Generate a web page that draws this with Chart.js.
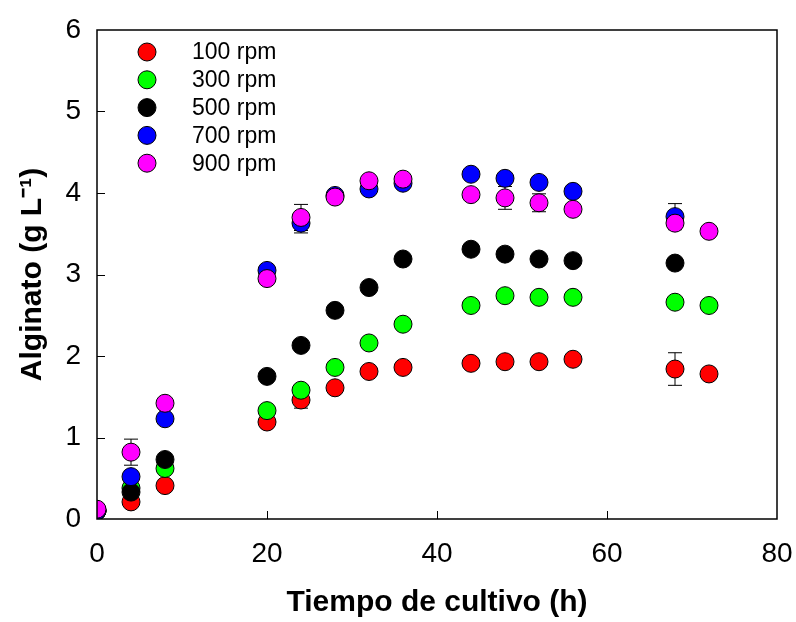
<!DOCTYPE html>
<html>
<head>
<meta charset="utf-8">
<script src="https://cdn.jsdelivr.net/npm/chart.js@4.4.1/dist/chart.umd.min.js"></script>
<style>
  html, body { margin: 0; padding: 0; background: #fff; }
  #wrap { width: 796px; height: 622px; }
</style>
</head>
<body>
<div id="wrap"><canvas id="chart" width="796" height="622"></canvas></div>
<script>
// sampling times (h)
var times = [0, 4, 8, 20, 24, 28, 32, 36, 44, 48, 52, 56, 68, 72];

// alginate (g/L) per agitation speed
var rpm100 = [0.10, 0.21, 0.41, 1.19, 1.46, 1.61, 1.81, 1.86, 1.91, 1.93, 1.93, 1.96, 1.84, 1.78];
var rpm300 = [0.10, 0.38, 0.62, 1.33, 1.58, 1.86, 2.16, 2.39, 2.62, 2.74, 2.72, 2.72, 2.66, 2.62];
var rpm500 = [0.10, 0.33, 0.73, 1.75, 2.13, 2.56, 2.84, 3.19, 3.31, 3.25, 3.19, 3.17, 3.14, null];
var rpm700 = [0.10, 0.52, 1.23, 3.05, 3.63, 3.97, 4.05, 4.12, 4.23, 4.18, 4.13, 4.02, 3.71, null];
var rpm900 = [0.12, 0.82, 1.42, 2.95, 3.70, 3.95, 4.15, 4.17, 3.98, 3.94, 3.88, 3.80, 3.63, 3.53];

// standard deviations (0 = no visible bar)
var err100 = [0, 0, 0, 0, 0.10, 0, 0, 0, 0, 0, 0, 0, 0.20, 0];
var err300 = [0, 0, 0, 0, 0, 0, 0, 0, 0, 0, 0, 0, 0, 0];
var err500 = [0, 0, 0, 0, 0, 0, 0, 0, 0, 0, 0, 0, 0, 0];
var err700 = [0, 0, 0, 0, 0.12, 0, 0, 0, 0, 0, 0, 0, 0.16, 0];
var err900 = [0, 0.16, 0, 0, 0.16, 0, 0, 0, 0, 0.14, 0.11, 0, 0, 0];

var labels = ['100 rpm', '300 rpm', '500 rpm', '700 rpm', '900 rpm'];
var colors = ['#ff0000', '#00ff00', '#000000', '#0000ff', '#ff00ff'];
var xTicks = [0, 20, 40, 60, 80];
var yTicks = [0, 1, 2, 3, 4, 5, 6];

var seriesVals = [rpm100, rpm300, rpm500, rpm700, rpm900];
var seriesErr = [err100, err300, err500, err700, err900];

function toPoints(vals) {
    var pts = [];
    for (var i = 0; i < times.length; i++) {
        if (vals[i] !== null) pts.push({ x: times[i], y: vals[i] });
    }
    return pts;
}

var datasets = [];
for (var s = 0; s < labels.length; s++) {
    datasets.push({
        label: labels[s],
        data: toPoints(seriesVals[s]),
        backgroundColor: colors[s],
        borderColor: '#000',
        borderWidth: 1,
        pointRadius: 9,
        showLine: false,
        order: labels.length - s // last series on top
    });
}

var FONT = '"Liberation Sans", Arial, sans-serif';

// error bars, frame, inward ticks and legend
var decorations = {
    id: 'decorations',
    beforeDatasetsDraw: function(chart) {
        var ctx = chart.ctx;
        var xs = chart.scales.x, ys = chart.scales.y;
        ctx.save();
        ctx.strokeStyle = '#000';
        ctx.lineWidth = 1;
        for (var s = 0; s < seriesVals.length; s++) {
            for (var i = 0; i < times.length; i++) {
                var e = seriesErr[s][i];
                if (!e || seriesVals[s][i] === null) continue;
                var px = xs.getPixelForValue(times[i]);
                var top = ys.getPixelForValue(seriesVals[s][i] + e);
                var bot = ys.getPixelForValue(seriesVals[s][i] - e);
                ctx.beginPath();
                ctx.moveTo(px, top); ctx.lineTo(px, bot);
                ctx.moveTo(px - 7, top); ctx.lineTo(px + 7, top);
                ctx.moveTo(px - 7, bot); ctx.lineTo(px + 7, bot);
                ctx.stroke();
            }
        }
        ctx.restore();
    },
    afterDraw: function(chart) {
        var ctx = chart.ctx;
        var a = chart.chartArea;
        var xs = chart.scales.x, ys = chart.scales.y;
        ctx.save();
        ctx.strokeStyle = '#000';
        ctx.lineWidth = 1.5;
        ctx.strokeRect(a.left, a.top, a.right - a.left, a.bottom - a.top);
        ctx.lineWidth = 1;
        ctx.beginPath();
        xTicks.forEach(function(v) {
            if (v === 0 || v === 80) return;
            var px = Math.round(xs.getPixelForValue(v)) + 0.5;
            ctx.moveTo(px, a.bottom); ctx.lineTo(px, a.bottom - 8);
        });
        yTicks.forEach(function(v) {
            if (v === 0 || v === 6) return;
            var py = Math.round(ys.getPixelForValue(v)) + 0.5;
            ctx.moveTo(a.left, py); ctx.lineTo(a.left + 8, py);
        });
        ctx.stroke();

        // legend inside plot
        ctx.font = '23px ' + FONT;
        ctx.textBaseline = 'middle';
        for (var s = 0; s < labels.length; s++) {
            var ly = 52 + s * 27.8;
            ctx.beginPath();
            ctx.arc(147, ly, 9, 0, Math.PI * 2);
            ctx.fillStyle = colors[s];
            ctx.fill();
            ctx.strokeStyle = '#000';
            ctx.stroke();
            ctx.fillStyle = '#000';
            ctx.fillText(labels[s], 192, ly + 1);
        }
        ctx.restore();
    }
};

new Chart(document.getElementById('chart').getContext('2d'), {
    type: 'scatter',
    data: { datasets: datasets },
    options: {
        responsive: false,
        animation: false,
        layout: { padding: { left: 0, top: 30, right: 19, bottom: 0 } },
        plugins: {
            legend: { display: false },
            tooltip: { enabled: false }
        },
        scales: {
            x: {
                type: 'linear',
                min: 0,
                max: 80,
                afterBuildTicks: function(scale) {
                    scale.ticks = xTicks.map(function(v) { return { value: v }; });
                },
                afterFit: function(scale) {
                    scale.height = 103;
                    scale.paddingLeft = 0;
                    scale.paddingRight = 0;
                },
                grid: { display: false, drawTicks: false },
                border: { display: false },
                ticks: { color: '#000', padding: 18, font: { family: FONT, size: 28 } },
                title: {
                    display: true,
                    text: 'Tiempo de cultivo (h)',
                    color: '#000',
                    padding: { top: 4, bottom: 1 },
                    font: { family: FONT, size: 30, weight: 'bold' }
                }
            },
            y: {
                type: 'linear',
                min: 0,
                max: 6,
                afterBuildTicks: function(scale) {
                    scale.ticks = yTicks.map(function(v) { return { value: v }; });
                },
                afterFit: function(scale) {
                    scale.width = 97;
                    scale.paddingTop = 0;
                    scale.paddingBottom = 0;
                },
                grid: { display: false, drawTicks: false },
                border: { display: false },
                ticks: { color: '#000', padding: 16, font: { family: FONT, size: 28 } },
                title: {
                    display: true,
                    text: 'Alginato (g L\u207B\u00B9)',
                    color: '#000',
                    padding: { top: 15, bottom: 0 },
                    font: { family: FONT, size: 30, weight: 'bold' }
                }
            }
        }
    },
    plugins: [decorations]
});
</script>
</body>
</html>
